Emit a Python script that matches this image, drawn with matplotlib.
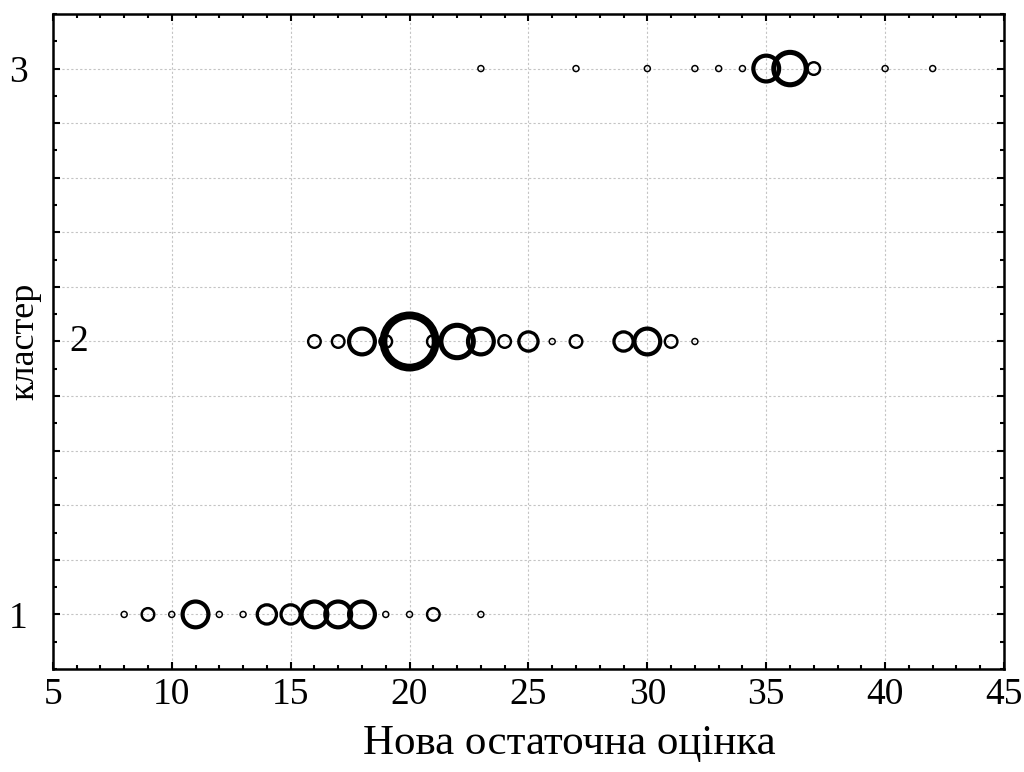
import matplotlib
matplotlib.use("Agg")
import matplotlib.pyplot as plt
from matplotlib.ticker import MultipleLocator, FixedLocator
import numpy as np

# scores (x) and counts (bubble size) for each cluster
scores_c1 = [8, 9, 10, 11, 12, 13, 14, 15, 16, 17, 18, 19, 20, 21, 23]
counts_c1 = [1, 2, 1, 4, 1, 1, 3, 3, 4, 4, 4, 1, 1, 2, 1]

scores_c2 = [16, 17, 18, 19, 20, 21, 22, 23, 24, 25, 26, 27, 29, 30, 31, 32]
counts_c2 = [2, 2, 4, 2, 8, 2, 5, 4, 2, 3, 1, 2, 3, 4, 2, 1]

scores_c3 = [23, 27, 30, 32, 33, 34, 35, 36, 37, 40, 42]
counts_c3 = [1, 1, 1, 1, 1, 1, 4, 5, 2, 1, 1]

clusters = [1, 2, 3]

plt.rcParams['font.family'] = ['Liberation Serif', 'DejaVu Serif']

DPI = 100
fig = plt.figure(figsize=(10.24, 7.72), dpi=DPI)
ax = fig.add_axes([0.0516, 0.1334, 0.9289, 0.8485])

px2pt = 72.0 / DPI


def bubble_style(counts):
    counts = np.asarray(counts, dtype=float)
    outer = 7.5 * counts          # outer diameter, px
    lw = 0.6 + 0.9 * counts       # ring width, px
    diam = (outer - lw) * px2pt
    return diam ** 2, lw * px2pt


for c, xs, ns in zip(clusters, [scores_c1, scores_c2, scores_c3],
                     [counts_c1, counts_c2, counts_c3]):
    s, lws = bubble_style(ns)
    ax.scatter(xs, [c] * len(xs), s=s, facecolors='none', edgecolors='black',
               linewidths=lws, zorder=3)

ax.set_xlim(5, 45)
ax.set_ylim(0.8, 3.2)

ax.xaxis.set_major_locator(MultipleLocator(5))
ax.xaxis.set_minor_locator(MultipleLocator(1))
ax.yaxis.set_major_locator(FixedLocator(np.arange(1.0, 3.01, 0.2)))
ax.yaxis.set_minor_locator(MultipleLocator(0.1))

ylabels = ['1' if abs(v - 1) < 1e-6 else '3' if abs(v - 3) < 1e-6 else ''
           for v in np.arange(1.0, 3.01, 0.2)]
ax.set_yticklabels(ylabels)
ax.text(6.1, 2, '2', fontsize=27, ha='center', va='center')

ax.grid(True, which='major', color='#c4c4c4', linestyle=(0, (2, 2)), linewidth=0.8)
ax.set_axisbelow(True)

ax.tick_params(which='both', direction='in', top=True, right=True,
               width=1.5, labelsize=27, colors='black')
ax.tick_params(which='major', length=5)
ax.tick_params(which='minor', length=3)
ax.tick_params(axis='y', which='major', pad=18)
ax.tick_params(axis='x', which='major', pad=6)

for sp in ax.spines.values():
    sp.set_linewidth(1.8)

ax.set_xlabel('Нова остаточна оцінка', fontsize=31)
ax.xaxis.set_label_coords(0.543, -0.085)
ax.set_ylabel('кластер', fontsize=26)
ax.yaxis.set_label_coords(-0.012, 0.5)

fig.savefig('out.png', dpi=DPI)
